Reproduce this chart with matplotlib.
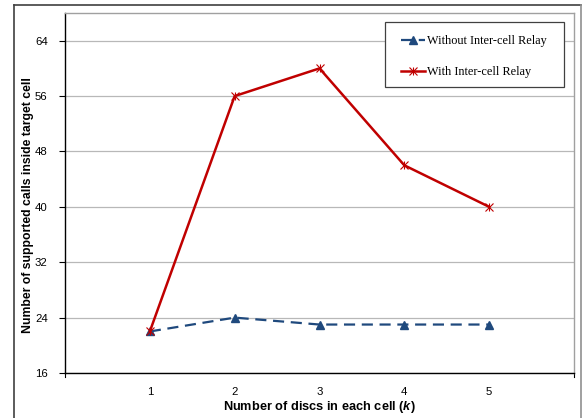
import matplotlib
matplotlib.use("Agg")
import matplotlib.pyplot as plt
from matplotlib.lines import Line2D
from matplotlib.patches import Rectangle
from matplotlib.legend_handler import HandlerTuple

k_values = [1, 2, 3, 4, 5]
without_relay = [22, 24, 23, 23, 23]
with_relay = [22, 56, 60, 46, 40]
y_ticks = [16, 24, 32, 40, 48, 56, 64]
x_labels = ["1", "2", "3", "4", "5"]

blue = "#1F497D"
red = "#C00000"

plt.rcParams["mathtext.fontset"] = "custom"
plt.rcParams["mathtext.bfit"] = "Liberation Sans:bold:italic"

W, H = 583, 418
fig = plt.figure(figsize=(W/100, H/100), dpi=100)
ax = fig.add_axes([65/W, 45/H, (574-65)/W, (373-13)/H])

# outer chart frame
fig.add_artist(Line2D([14/W, 14/W], [0, 1-5/H], transform=fig.transFigure, color="#404040", lw=1.2))
fig.add_artist(Line2D([14/W, 581/W], [1-5/H, 1-5/H], transform=fig.transFigure, color="#404040", lw=1.2))
fig.add_artist(Line2D([581/W, 581/W], [0, 1-5/H], transform=fig.transFigure, color="#909090", lw=1.2))

ax.set_xlim(0, 6)
ax.set_ylim(16, 68)
ax.set_yticks(y_ticks)
ax.set_yticklabels([str(t) for t in y_ticks], fontsize=8.2, family="Liberation Sans")
ax.set_xticks(k_values)
ax.set_xticklabels(x_labels, fontsize=8.2, family="Liberation Sans")
ax.tick_params(axis="x", length=0, pad=10)
ax.tick_params(axis="y", length=4, width=0.8, direction="out", pad=8.5, left=True)
# end ticks on x axis
for xv in [0, 6]:
    ax.plot([xv, xv], [0, -0.012], transform=ax.get_xaxis_transform(), color="black", lw=0.8, clip_on=False)

ax.grid(axis="y", color="#B8B8B8", lw=0.9)
ax.set_axisbelow(True)
for s in ["top", "right"]:
    ax.spines[s].set_color("#A0A0A0")
    ax.spines[s].set_linewidth(1.0)
for s in ["left", "bottom"]:
    ax.spines[s].set_color("black")
    ax.spines[s].set_linewidth(1.0)

l1, = ax.plot(k_values, without_relay, color=blue, lw=1.6, ls=(0, (5, 3)),
              marker="^", ms=6, mfc=blue, mec=blue, zorder=3)
l2, = ax.plot(k_values, with_relay, color=red, lw=1.8, marker="x", ms=6, mew=0.8, zorder=4)
l2b, = ax.plot(k_values, with_relay, color=red, lw=0, marker="|", ms=6, mew=0.8, zorder=4)

ax.set_xlabel("Number of discs in each cell ($\\bfit{k}$)", fontsize=9.2, fontweight="bold",
              family="Liberation Sans", va="center")
ax.xaxis.set_label_coords((319-65)/509, -(407-373)/360)
ax.set_ylabel("Number of supported calls inside target cell", fontsize=8.8, fontweight="bold",
              family="Liberation Sans", va="center")
ax.yaxis.set_label_coords(-(65-28)/509, 1-(205-13)/360)

# legend box
box = Rectangle((385/W, 1-87/H), 179/W, 65/H, transform=fig.transFigure,
                facecolor="white", edgecolor="#404040", lw=0.9, zorder=5)
fig.add_artist(box)

leg = fig.legend([l1, (l2, l2b)], ["Without Inter-cell Relay", "With Inter-cell Relay"],
                 handler_map={tuple: HandlerTuple(ndivide=1, pad=0)},
                 loc="upper left", bbox_to_anchor=(401/W, 1-35/H),
                 prop={"family": "Liberation Serif", "size": 8.8},
                 frameon=False, handlelength=2.0, handletextpad=0.15,
                 labelspacing=1.55, borderpad=0, borderaxespad=0)
leg.set_zorder(6)

fig.savefig("out.png", dpi=100)
